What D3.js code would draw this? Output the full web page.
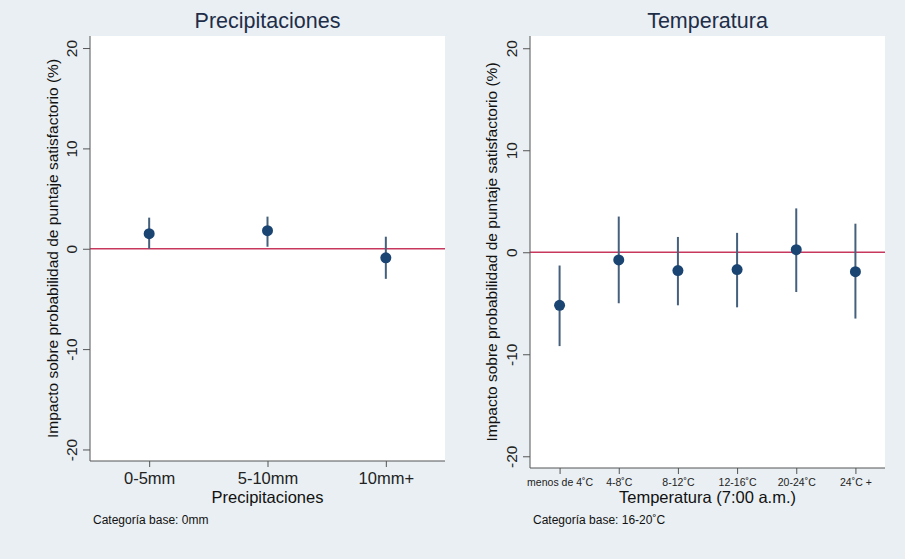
<!DOCTYPE html>
<html>
<head>
<meta charset="utf-8">
<script src="https://cdn.jsdelivr.net/npm/d3@7"></script>
<style>
  body { margin: 0; background: #e9eff2; }
  svg { display: block; font-family: "Liberation Sans", Arial, Helvetica, sans-serif; }
</style>
</head>
<body>
<svg id="chart" width="905" height="559"></svg>
<script>
// data
const rainCats = ["0-5mm", "5-10mm", "10mm+"];
const rainCoef = [1.5, 1.8, -0.9];
const rainLow  = [0.0, 0.2, -3.0];
const rainHigh = [3.1, 3.2, 1.2];

const tempCats = ["menos de 4˚C", "4-8˚C", "8-12˚C", "12-16˚C", "20-24˚C", "24˚C +"];
const tempCoef = [-5.2, -0.75, -1.8, -1.7, 0.25, -1.9];
const tempLow  = [-9.2, -5.0, -5.2, -5.4, -3.9, -6.5];
const tempHigh = [-1.3, 3.5, 1.5, 1.9, 4.3, 2.8];

const yTicks = [-20, -10, 0, 10, 20];
const yLabel = "Impacto sobre probabilidad de puntaje satisfactorio (%)";

const svg = d3.select("#chart");
svg.append("rect").attr("width", 905).attr("height", 559).attr("fill", "#e9eff2");

function panel(opt) {
    const x = d3.scaleLinear().domain([0.5, opt.cats.length + 0.5]).range([opt.left, opt.right]);
    const y = d3.scaleLinear().domain([-21.15, 21.2]).range([opt.bottom, opt.top]);
    const g = svg.append("g");

    g.append("rect")
        .attr("x", opt.left).attr("y", opt.top)
        .attr("width", opt.right - opt.left).attr("height", opt.bottom - opt.top)
        .attr("fill", "#fff");

    // zero line
    g.append("line")
        .attr("x1", opt.left).attr("x2", opt.right)
        .attr("y1", y(0)).attr("y2", y(0))
        .attr("stroke", "#c8385e").attr("stroke-width", 1.6);

    // y axis (plain hyphen for negatives, like the original)
    const ya = g.append("g").attr("transform", `translate(${opt.left},0)`)
        .call(d3.axisLeft(y).tickValues(yTicks).tickSize(7).tickFormat(d => String(d)));
    ya.select(".domain").attr("stroke", "#555").attr("d", `M0,${opt.top}V${opt.bottom}`);
    ya.selectAll(".tick line").attr("stroke", "#555");
    ya.selectAll(".tick text")
        .attr("x", null).attr("dy", null)
        .attr("transform", "translate(-13,0) rotate(-90)")
        .attr("text-anchor", "middle")
        .attr("font-size", 15.5).attr("fill", "#222")
        .attr("font-family", "'Liberation Sans', Arial, sans-serif");

    // x axis
    const xa = g.append("g").attr("transform", `translate(0,${opt.bottom})`)
        .call(d3.axisBottom(x).tickValues(d3.range(1, opt.cats.length + 1))
            .tickSize(6).tickFormat((d, i) => opt.cats[i]));
    xa.select(".domain").attr("stroke", "#555").attr("d", `M${opt.left},0H${opt.right}`);
    xa.selectAll(".tick line").attr("stroke", "#555");
    xa.selectAll(".tick text")
        .attr("y", opt.tickDy).attr("dy", null)
        .attr("font-size", opt.tickSize).attr("fill", "#222")
        .attr("font-family", "'Liberation Sans', Arial, sans-serif");

    // confidence intervals
    g.selectAll(".ci").data(opt.coef).enter().append("line")
        .attr("x1", (d, i) => x(i + 1)).attr("x2", (d, i) => x(i + 1))
        .attr("y1", (d, i) => y(opt.low[i])).attr("y2", (d, i) => y(opt.high[i]))
        .attr("stroke", "#45607c").attr("stroke-width", 2);

    g.selectAll(".pt").data(opt.coef).enter().append("circle")
        .attr("cx", (d, i) => x(i + 1)).attr("cy", d => y(d))
        .attr("r", 5.5).attr("fill", "#1a4472");

    // titles
    const cx = (opt.left + opt.right) / 2;
    g.append("text").attr("x", cx).attr("y", 28).attr("text-anchor", "middle")
        .attr("font-size", 21.5).attr("fill", "#1e2d48").text(opt.title);
    g.append("text").attr("x", cx).attr("y", 503).attr("text-anchor", "middle")
        .attr("font-size", 16.5).attr("fill", "#111").text(opt.xTitle);
    g.append("text").attr("x", opt.left + 3).attr("y", 524)
        .attr("font-size", 12).attr("fill", "#111").text(opt.note);
    g.append("text")
        .attr("transform", `translate(${opt.yLabelX},${(opt.top + opt.bottom) / 2}) rotate(-90)`)
        .attr("text-anchor", "middle").attr("font-size", 15.5).attr("fill", "#111")
        .text(yLabel);
}

panel({
    cats: rainCats, coef: rainCoef, low: rainLow, high: rainHigh,
    left: 90, right: 445, top: 36, bottom: 461,
    tickSize: 16.5, tickDy: 23,
    title: "Precipitaciones", xTitle: "Precipitaciones",
    note: "Categoría base: 0mm", yLabelX: 58
});

panel({
    cats: tempCats, coef: tempCoef, low: tempLow, high: tempHigh,
    left: 530, right: 885, top: 36, bottom: 468,
    tickSize: 10.5, tickDy: 18,
    title: "Temperatura", xTitle: "Temperatura (7:00 a.m.)",
    note: "Categoría base: 16-20˚C", yLabelX: 497
});
</script>
</body>
</html>
